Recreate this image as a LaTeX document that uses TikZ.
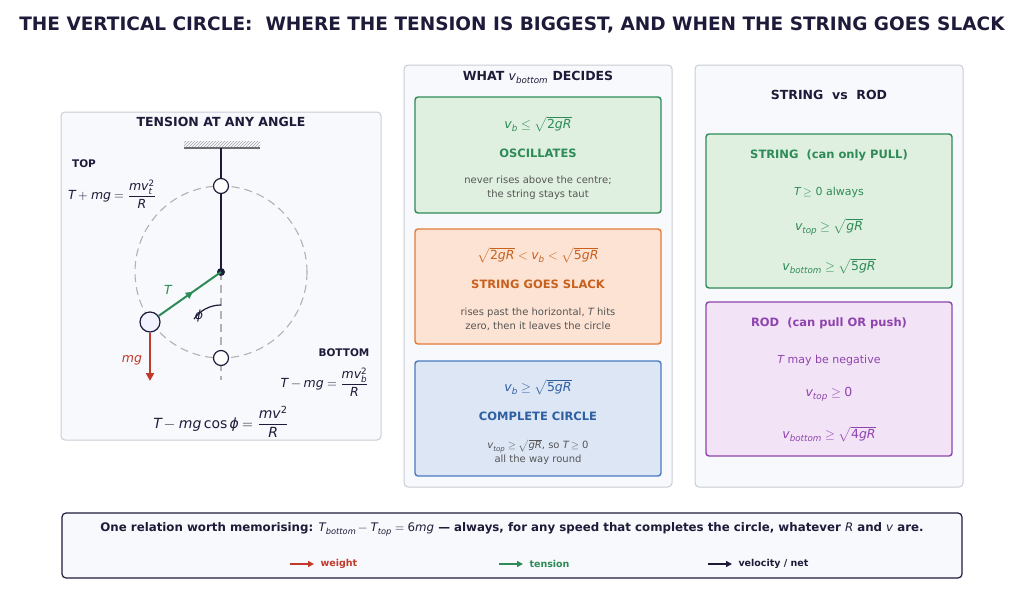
\documentclass[tikz,border=0pt]{standalone}
\usepackage{amsmath,amssymb}
\usepackage{unicode-math}
\setmainfont{DejaVu Sans}
\setmathfont{Latin Modern Math}
\setmathfont[range=it/{latin,Latin,greek}]{DejaVu Sans Oblique}
\setmathfont[range=up/{num}]{DejaVu Sans}
\usetikzlibrary{arrows.meta,patterns,decorations.markings}
\definecolor{navy}{HTML}{1E1B3A}
\definecolor{grn}{HTML}{2E8B57}
\definecolor{grnfill}{HTML}{E0F0E0}
\definecolor{org}{HTML}{E07B39}
\definecolor{orgtxt}{HTML}{C8601E}
\definecolor{orgfill}{HTML}{FDE3D3}
\definecolor{blu}{HTML}{4A7ABF}
\definecolor{blutxt}{HTML}{2F5FA0}
\definecolor{blufill}{HTML}{DCE6F5}
\definecolor{pur}{HTML}{8E44AD}
\definecolor{purfill}{HTML}{F3E3F7}
\definecolor{rd}{HTML}{C0392B}
\definecolor{panel}{HTML}{F8F9FC}
\definecolor{edge}{HTML}{C8CCD4}
\definecolor{note}{HTML}{555555}
\tikzset{
  panel/.style={draw=edge, fill=panel, rounded corners=4pt, line width=1pt},
  card/.style={rounded corners=3pt, line width=1.4pt},
  head/.style={font=\bfseries\fontsize{12.5}{15}\selectfont, text=navy},
  lbl/.style={font=\bfseries\fontsize{11.5}{14}\selectfont},
  small/.style={font=\fontsize{10}{14}\selectfont, text=note, align=center},
  eq/.style={font=\fontsize{12.5}{15}\selectfont},
  ball/.style={circle, draw=navy, fill=white, line width=1.2pt, inner sep=0pt, minimum size=15pt},
}
\begin{document}
\begin{tikzpicture}[x=1pt, y=-1pt]
    \useasboundingbox (0,0) rectangle (1024,600);
    \fill[white] (0,0) rectangle (1024,600);

    \node[font=\bfseries\fontsize{18.5}{22}\selectfont, text=navy] (title) at (512,25) {THE VERTICAL CIRCLE:\ \ WHERE THE TENSION IS BIGGEST, AND WHEN THE STRING GOES SLACK};

    % left panel
    \draw[panel] (61,112) rectangle (381,440);
    \node[head] (lefthead) at (221,122) {TENSION AT ANY ANGLE};
    \fill[pattern=north east lines, pattern color=gray!70] (184,141) rectangle (260,148);
    \draw[gray!80!navy, line width=1.5pt] (184,148) -- (260,148);
    \draw[gray!60, dash pattern=on 8pt off 5pt, line width=1.1pt] (221,272) circle (86);
    \draw[gray!60, dash pattern=on 8pt off 5pt, line width=1.1pt] (221,272) -- (221,380);
    \coordinate (pivot) at (221,148);
    \coordinate (centre) at (221,272);
    \draw[navy, line width=1.2pt] (pivot) -- (centre);
    \fill[navy] (centre) circle (4);
    \node[ball] (topball) at (221,186) {};
    \node[ball] (botball) at (221,358) {};
    \node[ball, fill=blue!5, minimum size=20pt] (bob) at (150,322) {};
    \draw[grn, line width=2pt, postaction={decorate}, decoration={markings, mark=at position .55 with {\arrow{Triangle[length=7pt,width=7pt]}}}] (bob) -- (centre);
    \draw[navy, line width=1.2pt] (221,305) arc[start angle=-90, end angle=-145, radius=33];
    \node[eq, text=grn] (Tlbl) at (168,290) {$T$};
    \node[eq, text=navy] (philbl) at (199,316) {$\phi$};
    \draw[rd, line width=2pt, -{Triangle[length=8pt,width=8pt]}] (bob.south) -- (150,381);
    \node[eq, text=rd] (mglbl) at (132,360) {$mg$};
    \node[text=navy, font=\bfseries\fontsize{10.5}{12}\selectfont] (toplbl) at (84,164) {TOP};
    \node[eq, text=navy] (topeq) at (112,194) {$T+mg=\dfrac{mv_t^2}{R}$};
    \node[text=navy, font=\bfseries\fontsize{10.5}{12}\selectfont] (botlbl) at (344,353) {BOTTOM};
    \node[eq, text=navy, anchor=east] (boteq) at (372,382) {$T-mg=\dfrac{mv_b^2}{R}$};
    \node[eq, text=navy, font=\fontsize{14}{16}\selectfont] (anyeq) at (221,422) {$T-mg\cos\phi=\dfrac{mv^2}{R}$};

    % middle panel
    \draw[panel] (404,65) rectangle (672,487);
    \node[head] (midhead) at (538,77) {WHAT $v_{bottom}$ DECIDES};
    \draw[card, draw=grn, fill=grnfill] (415,97) rectangle (661,213);
    \node[eq, text=grn] (osceq) at (538,124) {$v_b\leq\sqrt{2gR}$};
    \node[lbl, text=grn] (osclbl) at (538,153) {OSCILLATES};
    \node[small] (oscnote) at (538,188) {never rises above the centre;\\the string stays taut};
    \draw[card, draw=org, fill=orgfill] (415,229) rectangle (661,344);
    \node[eq, text=orgtxt] (slackeq) at (538,255) {$\sqrt{2gR}<v_b<\sqrt{5gR}$};
    \node[lbl, text=orgtxt] (slacklbl) at (538,284) {STRING GOES SLACK};
    \node[small] (slacknote) at (538,319) {rises past the horizontal, $T$ hits\\zero, then it leaves the circle};
    \draw[card, draw=blu, fill=blufill] (415,361) rectangle (661,476);
    \node[eq, text=blutxt] (fulleq) at (538,387) {$v_b\geq\sqrt{5gR}$};
    \node[lbl, text=blutxt] (fulllbl) at (538,416) {COMPLETE CIRCLE};
    \node[small] (fullnote) at (538,452) {$v_{top}\geq\sqrt{gR}$, so $T\geq0$\\all the way round};

    % right panel
    \draw[panel] (695,65) rectangle (963,487);
    \node[head] (righthead) at (829,95) {STRING\ \ vs\ \ ROD};
    \draw[card, draw=grn, fill=grnfill] (706,134) rectangle (952,288);
    \node[lbl, text=grn] (strlbl) at (829,155) {STRING\ \ (can only PULL)};
    \node[eq, text=grn, font=\fontsize{11}{13}\selectfont] (str1) at (829,192) {$T\geq0$ always};
    \node[eq, text=grn] (str2) at (829,227) {$v_{top}\geq\sqrt{gR}$};
    \node[eq, text=grn] (str3) at (829,266) {$v_{bottom}\geq\sqrt{5gR}$};
    \draw[card, draw=pur, fill=purfill] (706,302) rectangle (952,456);
    \node[lbl, text=pur] (rodlbl) at (829,323) {ROD\ \ (can pull OR push)};
    \node[eq, text=pur, font=\fontsize{11}{13}\selectfont] (rod1) at (829,360) {$T$ may be negative};
    \node[eq, text=pur] (rod2) at (829,394) {$v_{top}\geq0$};
    \node[eq, text=pur] (rod3) at (829,434) {$v_{bottom}\geq\sqrt{4gR}$};

    % footer
    \draw[rounded corners=4pt, draw=navy, fill=panel, line width=1.2pt] (62,513) rectangle (962,578);
    \node[text=navy, font=\bfseries\fontsize{11.8}{14}\selectfont] (memo) at (512,529) {One relation worth memorising: $T_{bottom}-T_{top}=6mg$ --- always, for any speed that completes the circle, whatever $R$ and $v$ are.};
    \foreach \x/\c/\t in {290/rd/{weight}, 499/grn/{tension}, 708/navy/{velocity / net}} {
        \draw[\c, line width=1.8pt, -{Triangle[length=6pt,width=6pt]}] (\x,564) -- (\x+24,564);
        \node[anchor=west, text=\c, font=\bfseries\fontsize{9.5}{11}\selectfont] at (\x+27,564) {\t};
    }
\end{tikzpicture}
\end{document}
